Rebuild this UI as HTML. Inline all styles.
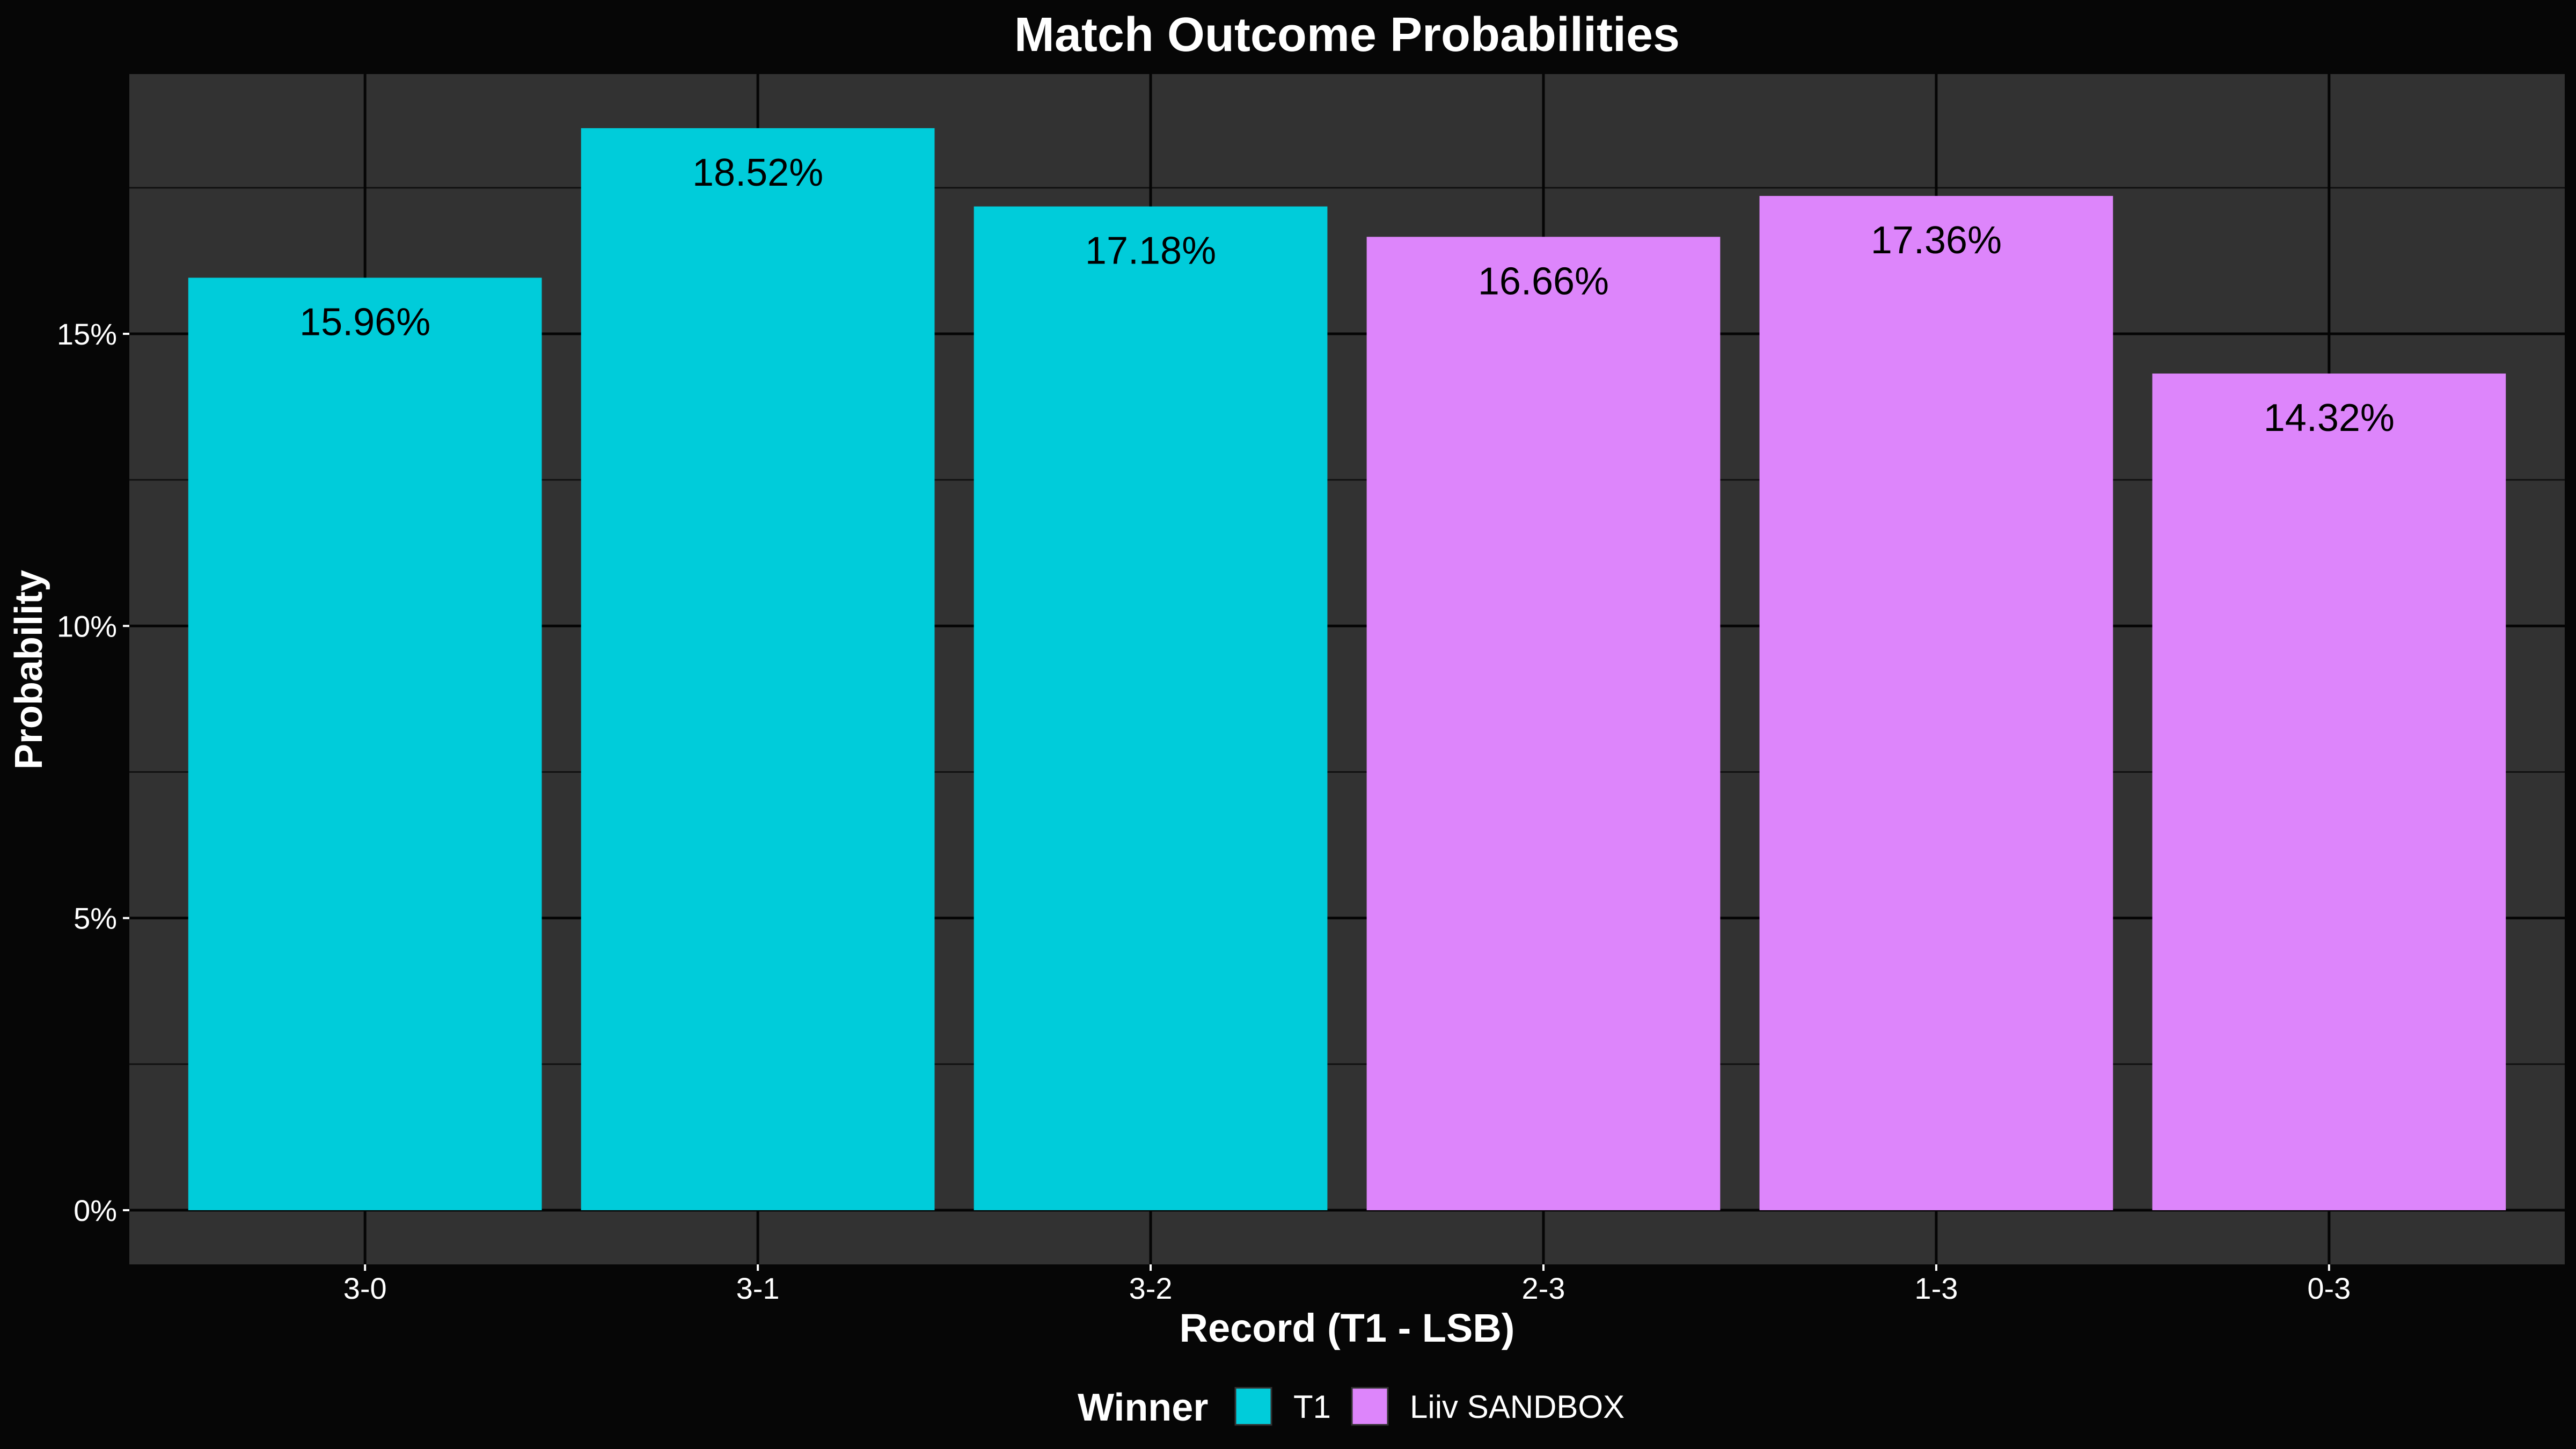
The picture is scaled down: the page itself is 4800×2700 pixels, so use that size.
<!DOCTYPE html>
<html><head><meta charset="utf-8"><style>
html,body{margin:0;padding:0;background:#060606;}
svg{display:block;font-family:"Liberation Sans",Arial,sans-serif;}
</style></head><body>
<svg id="chart" width="4800" height="2700" viewBox="0 0 4800 2700">
<rect x="0" y="0" width="4800" height="2700" fill="#060606"/>
<text x="2510" y="95" text-anchor="middle" font-size="90" font-weight="bold" fill="#ffffff">Match Outcome Probabilities</text>
<rect x="241" y="138" width="4538" height="2218" fill="#323232"/>
<g id="grid"></g>
<g id="bars"></g>
<g id="axes"></g>
<text x="0" y="0" transform="translate(78,1248) rotate(-90)" text-anchor="middle" font-size="72" font-weight="bold" fill="#ffffff">Probability</text>
<text x="2510" y="2500" text-anchor="middle" font-size="74" font-weight="bold" fill="#ffffff">Record (T1 - LSB)</text>
<g>
<text x="2008" y="2647" font-size="72" font-weight="bold" fill="#ffffff">Winner</text>
<rect x="2302" y="2586" width="67" height="69" fill="#00CCDA" stroke="#323232" stroke-width="3"/>
<text x="2410" y="2642" font-size="60" fill="#ffffff">T1</text>
<rect x="2519" y="2586" width="67" height="69" fill="#DD85FB" stroke="#323232" stroke-width="3"/>
<text x="2627" y="2642" font-size="60" fill="#ffffff">Liiv SANDBOX</text>
</g>
</svg>
<script>
const categories = ["3-0","3-1","3-2","2-3","1-3","0-3"];
const values = [15.96,18.52,17.18,16.66,17.36,14.32];
const winners = ["T1","T1","T1","LSB","LSB","LSB"];
const yTicks = [0,5,10,15];
const yTickLabels = ["0%","5%","10%","15%"];
const yMinor = [2.5,7.5,12.5,17.5];

const NS="http://www.w3.org/2000/svg";
const PL=241, PR=4779, PT=138, PB=2356;
const yMax = Math.max(...values)*1.05;
const Y0 = 2255;
function y(v){ return Y0 - v*(Y0-PT)/yMax; }
const step = (PR-PL)/(categories.length+0.2);
function x(i){ return PL + step*(0.6+i); }
const colors = {T1:"#00CCDA", LSB:"#DD85FB"};
function mk(tag, attrs, parent){ const e=document.createElementNS(NS,tag); for(const k in attrs) e.setAttribute(k,attrs[k]); parent.appendChild(e); return e; }

const grid=document.getElementById('grid');
yMinor.forEach(v=>{
  const l=mk('line',{x1:PL,x2:PR,y1:y(v),y2:y(v),stroke:'#111',"stroke-width":3},grid);
  
  
});
yTicks.forEach(v=>{
  const l=mk('line',{x1:PL,x2:PR,y1:y(v),y2:y(v),stroke:'#050505',"stroke-width":5},grid);
  
  
});
categories.forEach((c,i)=>{
  const l=mk('line',{x1:x(i),x2:x(i),y1:PT,y2:PB,stroke:'#050505',"stroke-width":5},grid);
  
  
});

const bars=document.getElementById('bars');
const bw=step*0.9;
values.forEach((v,i)=>{
  const r=mk('rect',{x:x(i)-bw/2,y:y(v),width:bw,height:y(0)-y(v),fill:colors[winners[i]]},bars);
  
  
  const t=mk('text',{x:x(i),y:y(v)+107,"text-anchor":"middle","font-size":72,fill:"#000"},bars);
  t.textContent=v.toFixed(2)+"%";
  
  
});

const axes=document.getElementById('axes');
yTicks.forEach((v,i)=>{
  const tk=mk('line',{x1:229,x2:PL,y1:y(v),y2:y(v),stroke:'#fff',"stroke-width":4},axes);
  
  
  const t=mk('text',{x:218,y:y(v)+20,"text-anchor":"end","font-size":56,fill:"#fff"},axes);
  t.textContent=yTickLabels[i];
  
  
});
categories.forEach((c,i)=>{
  const tk=mk('line',{x1:x(i),x2:x(i),y1:PB,y2:PB+12,stroke:'#fff',"stroke-width":4},axes);
  
  
  const t=mk('text',{x:x(i),y:2420,"text-anchor":"middle","font-size":56,fill:"#fff"},axes);
  t.textContent=c;
  
  
});
</script>
</body></html>
